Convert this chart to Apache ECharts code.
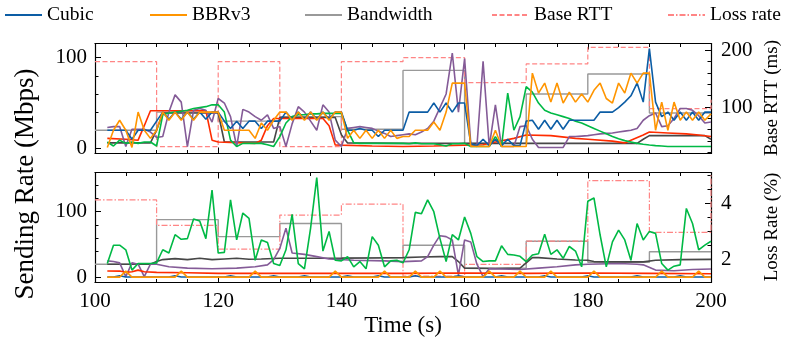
<!DOCTYPE html>
<html><head><meta charset="utf-8">
<script src="https://cdn.jsdelivr.net/npm/echarts@6/dist/echarts.min.js"></script>
<style>html,body{margin:0;padding:0;background:#fff}#c{width:794px;height:339px}</style>
</head><body><div id="c"></div>
<script>
const FONT = '"Liberation Serif", "DejaVu Serif", serif';
const startSecond = 102;

// ---- top panel (base RTT scenario), one value per second from t=102 ----
const cubicTop = [20,20,20,20,10,20,20,20,30,40, 32,40,32,40,32,40,32,40,40,30, 22,30,22,30,30,22,30,30,30,40,
 32,40,32,40,32,40,32,40,40,20, 20,22,20,20,13,20,20,20,20,40, 40,40,40,50,40,50,40,50,50,5,
 3,10,3,10,3,10,3,3,30,31, 21,31,21,31,21,31,31,31,31,31, 40,40,40,45,51,58,72,51,110,51, 35,40,31,40,31,40,31,40,40];
const bbrTop = [1,20,31,20,1,40,20,11,20,40, 31,40,31,40,31,40,40,40,40,20, 20,20,20,20,11,28,20,31,40,40,
 31,40,31,40,31,40,31,40,40,11, 20,11,20,11,20,11,20,11,13,13, 20,20,20,29,20,40,72,72,72,2,
 2,2,2,20,2,2,2,2,2,83, 61,72,51,72,50,62,51,60,51,64, 72,55,50,72,61,83,72,83,83,20, 51,20,51,31,40,31,40,31,38];
const greenTop = [7,2.6,9,5.5,7,5.5,7,7,2.6,37, 39,40,41,42,44,45,46,48,48,40, 9,2,5.5,5.5,5.5,5.5,4,2,13,28,
 35,37,37,38,38,38.6,38.6,38.6,38.6,20, 6,5.5,5.5,5.5,5.5,5.5,5.5,5.5,5.5,5, 6,5,5,5,4,2.6,5,5,5.5,2,
 2,2,2,13,2,61,20,35,68,62, 50,42,39,37,35,33,30,28,25,22, 19,16,13,10.5,8.5,7,5.5,4.5,3.7,3, 2.6,2,2,2,2,2,2,2,2];
const purpleTop = [23,24,24,2,21,21,21,18,12,13, 40,59,51,2,42,44,42,29,55,50, 35,2,43,40,35,31,37,22,24,2,
 27,46,40,30,20,48,40,9,2,22, 23,24,23,22,19,16.5,13,14,15,16, 15,18,22,30,45,60,105,40,99,5.5,
 2,96,2,48,2,2,2,24,25,10, 1,1,1,1,1,13,13,13.5,14,15, 16,16.5,17,18,19,20,22,31,36,39, 24,25,33,44,44,42,36,28,29];
const redTop = [[102,11],[105,10],[107,9],[108,25],[109,41.5],[118,41.5],[119,9],[120,7],[124,6],[126,5.5],[127,9],
 [128,25],[129,33],[137,33],[138,25],[139,3.7],[140,3.5],[145,2.6],[150,2],[155,2.5],[163,4],[165,7],[168,11],
 [170,14.7],[174,14],[178,11],[180,10],[184,8],[186,6],[187,9],[189,14.7],[190,18],[193,17],[196,16],[198,14.7],[200,13]];
const darkTop = [[102,6],[109,6],[110,20],[111,39],[120,39],[121,7],[129,7],[130,34],[139,34],[140,15],[141,6],
 [150,5.5],[160,5.5],[170,5.5],[188,5.5],[189,10],[190,14],[199,14],[200,10]];

// ---- bottom panel (loss scenario) ----
const greenBot = [21,49,49,42,11,21,21,21,22,42, 37,65,58,59,89,86,59,133,37,38, 118,57,98,90,26,57,53,21,18,42,
 96,21,13,75,152,40,70,26,25,31.5, 16,24,13,62,49,16,25,26,22,42, 99,97,118,100,59,24,65,57,92,67,
 31.5,24,25,25,48,35,34,32,24,34, 36,65.5,35,42,29,47,40,16,116,121, 64.5,16,54,72,57,26,82,57,70,67, 21,11,17,19,105,82,42,49,55];
const cubicBot = [.5,.5,2.5,.5,.5,.5,.5,.5,.5,.5, .5,2.5,.5,.5,.5,.5,.5,.5,.5,.5, 2.5,.5,.5,.5,.5,.5,.5,2.5,.5,.5,
 .5,.5,2.5,.5,.5,.5,.5,.5,.5,2.5, .5,.5,.5,.5,2.5,.5,.5,.5,.5,.5, 2.5,.5,.5,.5,.5,.5,.5,2.5,.5,.5,
 .5,.5,.5,.5,2.5,.5,.5,.5,.5,.5, .5,2.5,.5,.5,.5,.5,.5,.5,2.5,.5, .5,.5,.5,.5,.5,.5,2.5,.5,.5,.5, .5,.5,.5,2.5,.5,.5,.5,.5,.5];
const bbrBot = [.3,.3,.3,9.5,.3,.3,.3,.3,.3,.3, .3,.3,9.5,.3,.3,.3,.3,.3,.3,.3, .3,.3,.3,.3,9.5,.3,.3,.3,.3,.3,
 .3,.3,.3,.3,.3,.3,.3,9.5,.3,.3, .3,.3,.3,.3,.3,9.5,.3,.3,.3,.3, 9.5,.3,.3,.3,9.5,.3,.3,.3,.3,.3,
 .3,.3,9.5,.3,.3,.3,.3,9.5,.3,.3, .3,.3,9.5,.3,.3,.3,.3,.3,.3,9.5, .3,.3,.3,.3,.3,.3,.3,.3,.3,.3, 9.5,.3,.3,.3,.3,.3,9.5,.3,.3];
const purpleBot = [[102,25],[103,24],[104,22],[105,1],[106,22],[107,20],[108,1],[109,20],[110,20],[112,16],[115,14],
 [119,13],[123,14],[126,16],[128,19],[129,27],[130,44],[131,75],[132,37],[134,35],[136,31.5],[138,28],[142,26],
 [147,25],[150,24],[153,25],[154,31.5],[155,49],[156,63.5],[157,62],[158,57],[159,3.5],[160,57],[161,54],[162,20],
 [163,1],[164,13],[169,12],[172,14],[175,16],[178,19],[180,20],[185,21],[188,20],[189,19],[191,11],[194,10],[197,12],[200,12.7]];
const redBot = [[102,9.7],[104,9.5],[105,7.6],[106,8.5],[107,11],[108,8.5],[110,7.6],[115,7],[120,6],[130,6],[140,6],
 [150,6],[160,6.5],[170,6],[180,6.5],[190,6],[200,5.5]];
const darkBot = [[102,20],[109,20],[110,24],[111,27],[113,28.5],[115,27],[117,29],[119,27],[121,28],[123,29],[125,27.5],
 [127,28],[130,29],[135,29],[140,29],[145,29.5],[150,30],[153,31],[156,31.5],[158,31.5],[159,24],[160,14],[165,13.5],
 [169,14],[170,22],[171,30],[172,30],[175,28],[178,26.5],[180,26],[181,24],[185,23.5],[189,23.5],[191,26],[195,27],[200,27.4]];

// ---- 10 s steps ----
const stepTimes = [100,110,120,130,140,150,160,170,180,190,200];
const bandwidthTop = [20,40,30,35,21,86,5.5,60,82,39,39];
const baseRtt = [180,30,180,30,180,187,143,176,205,97,113];
const bandwidthBot = [20,88,62,82,30,49,14,55,23,39,39];
const lossRate = [4.12,3.21,2.36,3.58,3.97,1.4,1.82,2.65,4.81,2.96,5.0];

// ---- axis ticks ----
const rateTicksTop = [0,100], rateMinorTop = [20,40,60,80];
const rttTicks = [100,200], rttMinor = [20,40,60,80,120,140,160,180];
const rateTicksBot = [0,100], rateMinorBot = [20,40,60,80,120,140];
const lossTicks = [2,4], lossMinor = [1.5,2.5,3,3.5,4.5,5];

const seq = vals => vals.map((v,i)=>[startSecond+i, v]);
const steps = vals => vals.map((v,i)=>[stepTimes[i], v]);

const C = {blue:'#0C5DA5', green:'#00B945', orange:'#FF9500', red:'#FF2C00', purple:'#845B97', dark:'#474747', gray:'#999999', pink:'#ff8585'};
const BLACK = '#000';

function xAx(g, pos, labels){
  return {type:'value', gridIndex:g, position:pos, min:100, max:200, interval:20,
    axisLine:{show:true, onZero:false, lineStyle:{color:BLACK, width:1.2}},
    axisTick:{show:true, inside:true, length:6, lineStyle:{color:BLACK, width:1}},
    minorTick:{show:true, splitNumber:4, length:3.5, lineStyle:{color:BLACK, width:1}},
    axisLabel:{show:labels, color:BLACK, fontFamily:FONT, fontSize:21, margin:8},
    splitLine:{show:false}, minorSplitLine:{show:false}};
}
function yMain(g, pos, min, max, ticks, margin){
  return {type:'value', gridIndex:g, position:pos, min:min, max:max,
    axisLine:{show:true, onZero:false, lineStyle:{color:BLACK, width:1.2}},
    axisTick:{show:true, inside:true, length:6, customValues:ticks, lineStyle:{color:BLACK, width:1}},
    axisLabel:{show:true, customValues:ticks, color:BLACK, fontFamily:FONT, fontSize:21, margin:margin},
    splitLine:{show:false}};
}
function yMinor(g, pos, min, max, ticks){
  return {type:'value', gridIndex:g, position:pos, min:min, max:max,
    axisLine:{show:false, onZero:false},
    axisTick:{show:true, inside:true, length:3.5, customValues:ticks, lineStyle:{color:BLACK, width:1}},
    axisLabel:{show:false}, splitLine:{show:false}};
}
function line(name, data, color, xi, yi, extra){
  return Object.assign({type:'line', name:name, data:data, xAxisIndex:xi, yAxisIndex:yi, symbol:'none',
    lineStyle:{color:color, width:1.6}, itemStyle:{color:color}, silent:true, animation:false}, extra||{});
}
const stepStyle = (color, type, w) => ({step:'end', lineStyle:{color:color, width:w, type:type}});

const legendBase = {orient:'horizontal', top:5, itemWidth:37, itemHeight:14, itemGap:0, padding:0,
  itemStyle:{opacity:0, color:'transparent', borderWidth:0},
  textStyle:{fontFamily:FONT, fontSize:19.5, color:BLACK}, selectedMode:false};
const legendPos = [['Cubic',4],['BBRv3',149],['Bandwidth',304],['Base RTT',491],['Loss rate',667]];

const option = {
  animation:false,
  backgroundColor:'#fff',
  grid:[{left:95, top:43.5, width:616, height:110}, {left:95, top:172.5, width:616, height:110}],
  legend: legendPos.map(([n,l]) => Object.assign({}, legendBase, {left:l, data:[n]})),
  xAxis:[xAx(0,'bottom',false), xAx(0,'top',false), xAx(1,'bottom',true), xAx(1,'top',false)],
  yAxis:[
    yMain(0,'left',-5.7,115.7,rateTicksTop,8), yMinor(0,'left',-5.7,115.7,rateMinorTop),
    yMain(0,'right',18,212,rttTicks,10), yMinor(0,'right',18,212,rttMinor),
    yMain(1,'left',-7.9,159.8,rateTicksBot,8), yMinor(1,'left',-7.9,159.8,rateMinorBot),
    yMain(1,'right',1.17,5.1,lossTicks,10), yMinor(1,'right',1.17,5.1,lossMinor)
  ],
  series:[
    line('Bandwidth', steps(bandwidthTop), C.gray, 0, 0, stepStyle(C.gray,'solid',1.4)),
    line('Base RTT', steps(baseRtt), C.pink, 0, 2, stepStyle(C.pink,[5,2.5],1.2)),
    line('dark', darkTop, C.dark, 0, 0),
    line('red', redTop, C.red, 0, 0),
    line('purple', seq(purpleTop), C.purple, 0, 0),
    line('green', seq(greenTop), C.green, 0, 0),
    line('Cubic', seq(cubicTop), C.blue, 0, 0),
    line('BBRv3', seq(bbrTop), C.orange, 0, 0),

    line('Bandwidth', steps(bandwidthBot), C.gray, 2, 4, stepStyle(C.gray,'solid',1.4)),
    line('Loss rate', steps(lossRate), C.pink, 2, 6, stepStyle(C.pink,[6,2,1.5,2],1.2)),
    line('dark', darkBot, C.dark, 2, 4),
    line('purple', purpleBot, C.purple, 2, 4),
    line('green', seq(greenBot), C.green, 2, 4),
    line('Cubic', seq(cubicBot), C.blue, 2, 4),
    line('red', redBot, C.red, 2, 4),
    line('BBRv3', seq(bbrBot), C.orange, 2, 4)
  ],
  graphic:[
    {type:'text', x:26, y:184, rotation:Math.PI/2, style:{text:'Sending Rate (Mbps)', fontFamily:FONT, fontSize:27, fill:BLACK, align:'center', verticalAlign:'middle'}},
    {type:'text', x:772, y:98, rotation:Math.PI/2, style:{text:'Base RTT (ms)', fontFamily:FONT, fontSize:19, fill:BLACK, align:'center', verticalAlign:'middle'}},
    {type:'text', x:772, y:227, rotation:Math.PI/2, style:{text:'Loss Rate (%)', fontFamily:FONT, fontSize:19, fill:BLACK, align:'center', verticalAlign:'middle'}},
    {type:'text', x:403, y:326, style:{text:'Time (s)', fontFamily:FONT, fontSize:23, fill:BLACK, align:'center', verticalAlign:'middle'}}
  ]
};
const chart = echarts.init(document.getElementById('c'), null, {renderer:'canvas'});
chart.setOption(option);
</script></body></html>
